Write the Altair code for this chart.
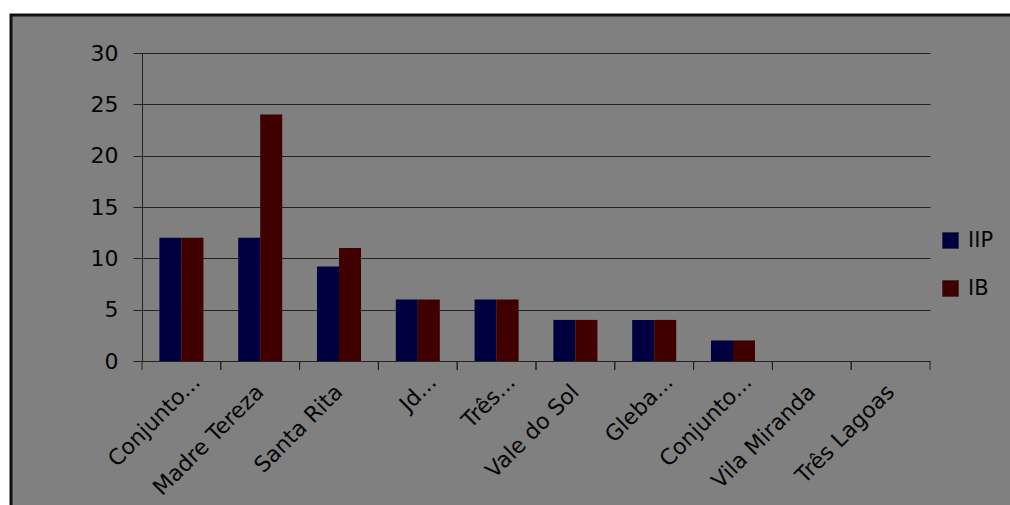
import json
import altair as alt
import pandas as pd

categories = ["Conjunto...", "Madre Tereza", "Santa Rita", "Jd...", "Três...",
              "Vale do Sol", "Gleba...", "Conjunto...", "Vila Miranda", "Três Lagoas"]
iip = [12, 12, 9.2, 6, 6, 4, 4, 2, 0, 0]
ib = [12, 24, 11, 6, 6, 4, 4, 2, 0, 0]
series = ["IIP", "IB"]
colors = ["#000040", "#400000"]
y_ticks = [0, 5, 10, 15, 20, 25, 30]

rows = []
for i, c in enumerate(categories):
    rows.append({"idx": i, "cat": c, "series": "IIP", "value": iip[i]})
    rows.append({"idx": i, "cat": c, "series": "IB", "value": ib[i]})
df = pd.DataFrame(rows)
idx_df = pd.DataFrame({"idx": list(range(len(categories)))})

FONT = "DejaVu Sans"
TEXT = "#050505"
label_expr = json.dumps(categories, ensure_ascii=False) + "[datum.value]"
trunc_test = "indexof(" + label_expr + ", '...') > 0"

xscale = alt.Scale(paddingInner=0, paddingOuter=0)
xaxis = alt.Axis(labelExpr=label_expr, labelAngle=-45, labelAlign="right",
                 labelBaseline="middle", ticks=False,
                 labelPadding={"condition": {"test": trunc_test, "value": 17}, "value": 27},
                 labelOffset={"condition": {"test": trunc_test, "value": 15}, "value": 0},
                 domainColor="#222222", labelFont=FONT, labelFontSize=22,
                 labelColor=TEXT, labelOverlap=False)
one = alt.Data(values=[{}])

white_top = alt.Chart(one).mark_rect(fill="white").encode(
    x=alt.value(-142), x2=alt.value(868), y=alt.value(-53), y2=alt.value(-38))
white_left = alt.Chart(one).mark_rect(fill="white").encode(
    x=alt.value(-142), x2=alt.value(-131), y=alt.value(-53), y2=alt.value(452))
frame = alt.Chart(one).mark_rect(
    fill="white", fillOpacity=0, stroke="#111111", strokeWidth=3
).encode(
    x=alt.value(-131), x2=alt.value(880), y=alt.value(-38), y2=alt.value(470)
)

bars = alt.Chart(df).mark_bar().encode(
    x=alt.X("idx:O", scale=xscale, title=None, axis=xaxis),
    xOffset=alt.XOffset("series:N", sort=series,
                        scale=alt.Scale(paddingInner=0, paddingOuter=0.79)),
    y=alt.Y("value:Q", scale=alt.Scale(domain=[0, 30], nice=False), title=None,
            axis=alt.Axis(values=y_ticks, tickSize=9, tickColor="#222222",
                          domainColor="#222222", gridColor="#222222", grid=True,
                          labelFont=FONT, labelFontSize=22, labelColor=TEXT,
                          labelPadding=15)),
    color=alt.Color("series:N", sort=series,
                    scale=alt.Scale(domain=series, range=colors),
                    legend=alt.Legend(title=None, orient="none", legendX=798, legendY=177,
                                      symbolType="square", symbolSize=256,
                                      symbolStrokeColor="#222222", symbolStrokeWidth=0.5,
                                      labelFont=FONT, labelFontSize=21, labelColor=TEXT,
                                      rowPadding=26, labelOffset=7)),
)

ticks0 = alt.Chart(idx_df).mark_rule(color="#222222").encode(
    x=alt.X("idx:O", bandPosition=0, scale=xscale, title=None, axis=xaxis),
    y=alt.value(308), y2=alt.value(317),
)
ticks1 = alt.Chart(idx_df).mark_rule(color="#222222").encode(
    x=alt.X("idx:O", bandPosition=1, scale=xscale, title=None, axis=xaxis),
    y=alt.value(308), y2=alt.value(317),
)

chart = alt.layer(bars, ticks0, ticks1, white_top, white_left, frame).properties(
    width=788, height=308,
    autosize=alt.AutoSizeParams(type="none"),
    padding={"left": 142, "top": 53, "right": 80, "bottom": 144},
    background="#808080",
).configure_view(stroke=None)

chart.save("out.html", embed_options={"renderer": "svg", "actions": False})
